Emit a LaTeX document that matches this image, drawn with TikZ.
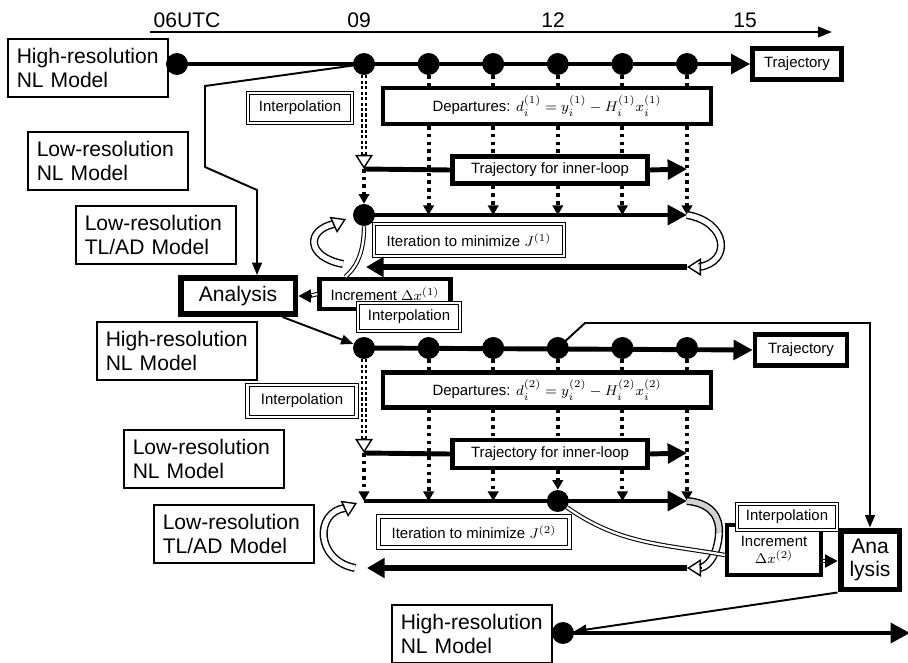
\documentclass[tikz,border=0pt]{standalone}
\usepackage{fontspec}
\setmainfont{Liberation Sans}
\usetikzlibrary{
    arrows.meta,
    calc,
    positioning
}
\tikzset{
    model/.style={draw, line width=0.7pt, align=left, text width=2.85cm,
        minimum height=1.16cm, inner xsep=5pt, font=\fontsize{12}{13.5}\selectfont},
    thickbox/.style={draw, line width=2.5pt, fill=white, font=\fontsize{8.5}{10}\selectfont},
    dblbox/.style={draw, double, double distance=1.3pt, line width=0.6pt, fill=white,
        font=\fontsize{8.5}{10}\selectfont},
    anabox/.style={draw, line width=3.4pt, fill=white, align=center,
        font=\fontsize{12}{13.5}\selectfont},
    dot/.style={circle, fill, inner sep=0pt, minimum size=12.5pt},
    tline/.style={line width=2.8pt, -{Triangle[length=11pt, width=11pt]}},
    backline/.style={line width=3.2pt, -{Triangle[length=10pt, width=11pt]}},
    obs/.style={line width=2.3pt, dash pattern=on 2pt off 2.4pt},
    obsarrow/.style={obs, -{Triangle[length=5.5pt, width=6pt]}},
    interp/.style={double, double distance=1.3pt, line width=1.1pt, dash pattern=on 1.8pt off 1.3pt},
    feed/.style={line width=1.1pt, -{Triangle[length=7pt, width=5.5pt]}},
    dblline/.style={double, double distance=1.3pt, line width=0.6pt},
    solotip/.style={line width=0.6pt, -{Triangle[length=7pt, width=7.5pt]}},
    hollow/.style={double, double distance=3pt, line width=0.8pt},
    hollowtip/.style={line width=0.8pt, -{Triangle[open, length=8pt, width=10pt]}},
    timelabel/.style={font=\fontsize{12}{14}\selectfont}
}
\begin{document}
\begin{tikzpicture}[x=0.02cm, y=-0.02cm]
    \useasboundingbox (0,0) rectangle (908,662);

    % time axis
    \coordinate (ax0) at (150,32);
    \coordinate (ax1) at (832,32);
    \draw[line width=1.2pt, -{Triangle[length=8pt, width=6pt]}] (ax0) -- (ax1);
    \node[timelabel] (lab06) at (187,20) {06UTC};
    \node[timelabel] (lab09) at (359,20) {09};
    \node[timelabel] (lab12) at (553,20) {12};
    \node[timelabel] (lab15) at (745,20) {15};

    % first outer loop
    \node[model] (hr1) at (88,68) {High-resolution\\NL Model};
    \node[model] (lr1) at (108,161) {Low-resolution\\NL Model};
    \node[model] (tl1) at (156,235) {Low-resolution\\TL/AD Model};
    \node[thickbox, minimum width=1.78cm, minimum height=0.62cm] (traj1) at (797,64) {Trajectory};
    \node[thickbox, minimum width=6.56cm, minimum height=0.72cm] (dep1) at (547,106)
        {Departures: $d_i^{(1)} = y_i^{(1)} - H_i^{(1)}x_i^{(1)}$};
    \node[dblbox, minimum width=2.08cm, minimum height=0.6cm] (ip1) at (300,108) {Interpolation};
    \node[thickbox, minimum width=3.9cm, minimum height=0.54cm] (inner1) at (550,170) {Trajectory for inner-loop};
    \node[dblbox, minimum width=3.8cm, minimum height=0.64cm] (it1) at (469,240) {Iteration to minimize $J^{(1)}$};

    \node[dot] (ha0) at (177,64) {};
    \foreach \i in {1,...,6} {
        \node[dot] (ha\i) at ({364+64.6*(\i-1)},64) {};
        \coordinate (la\i) at ({364+64.6*(\i-1)},169);
        \coordinate (ma\i) at ({364+64.6*(\i-1)},215);
    }
    \node[dot] (mdot1) at (ma1) {};

    \draw[tline] (ha0.center) -- (traj1.west);
    \draw[interp] (ha1.south) -- ($(la1)+(0,-14)$);
    \draw[hollowtip] ($(la1)+(0,-15)$) -- (la1);
    \foreach \i in {2,...,6}
        \draw[obs] (ha\i.south) -- (ha\i |- dep1.north);
    \foreach \i in {2,6}
        \draw[obsarrow] (ha\i |- dep1.south) -- (ma\i);
    \foreach \i in {3,4,5} {
        \draw[obs] (ha\i |- dep1.south) -- (ha\i |- inner1.north);
        \draw[obsarrow] (ha\i |- inner1.south) -- (ma\i);
    }
    \draw[obsarrow] (la1) -- (mdot1);
    \draw[line width=2.8pt] (la1) -- (inner1.west);
    \draw[tline] (inner1.east) -- (la6);
    \draw[tline] (mdot1.center) -- (ma6);

    % iteration loop
    \coordinate (ra1) at (687,267);
    \coordinate (ra0) at (366,267);
    \draw[hollow] (ma6) .. controls (728,222) and (732,262) .. ($(ra1)+(12,0)$);
    \draw[hollowtip] ($(ra1)+(13,0)$) -- (ra1);
    \draw[backline] (ra1) -- (ra0);
    \draw[hollow] (343,264) .. controls (306,257) and (306,230) .. (334,224);
    \draw[hollowtip] (333,225) -- (346,219);

    \node[anabox, minimum width=2.3cm, minimum height=0.72cm] (ana1) at (238,296) {Analysis};
    \node[thickbox, minimum width=2.62cm, minimum height=0.6cm] (inc1) at (385,294) {Increment $\Delta x^{(1)}$};
    \node[dblbox, minimum width=2.04cm, minimum height=0.56cm] (ip2) at (409,317) {Interpolation};

    \draw[dblline] (mdot1.south) .. controls (364,250) and (358,266) .. ($(inc1.north west)+(28,0)$);
    \draw[dblline] (inc1.west) -- ($(ana1.east)+(11,0)$);
    \draw[solotip] ($(ana1.east)+(13,0)$) -- (ana1.east);
    \draw[feed] (ha1.center) -- (205,86) -- (205,167) -- (257,190) -- ($(ana1.north)+(19,0)$);

    % second outer loop
    \node[model] (hr2) at (177,351) {High-resolution\\NL Model};
    \node[model] (lr2) at (204,459) {Low-resolution\\NL Model};
    \node[model] (tl2) at (234,534) {Low-resolution\\TL/AD Model};
    \node[thickbox, minimum width=1.84cm, minimum height=0.62cm] (traj2) at (801,350) {Trajectory};
    \node[thickbox, minimum width=6.56cm, minimum height=0.7cm] (dep2) at (547,390)
        {Departures: $d_i^{(2)} = y_i^{(2)} - H_i^{(2)}x_i^{(2)}$};
    \node[dblbox, minimum width=2.18cm, minimum height=0.64cm] (ip3) at (302,401) {Interpolation};
    \node[thickbox, minimum width=3.9cm, minimum height=0.56cm] (inner2) at (550,454) {Trajectory for inner-loop};
    \node[dblbox, minimum width=3.82cm, minimum height=0.62cm] (it2) at (474,532) {Iteration to minimize $J^{(2)}$};

    \foreach \i in {1,...,6} {
        \node[dot] (hb\i) at ({364+64.6*(\i-1)},348) {};
        \coordinate (lb\i) at ({364+64.6*(\i-1)},453);
        \coordinate (mb\i) at ({364+64.6*(\i-1)},501);
    }
    \node[dot] (mdot2) at (mb4) {};

    \draw[feed] (ana1.south east) ++(-16,0) -- (hb1);
    \draw[tline] (hb1.center) -- (traj2.west);
    \draw[interp] (hb1.south) -- ($(lb1)+(0,-14)$);
    \draw[hollowtip] ($(lb1)+(0,-15)$) -- (lb1);
    \foreach \i in {2,...,6}
        \draw[obs] (hb\i.south) -- (hb\i |- dep2.north);
    \foreach \i in {2,6}
        \draw[obsarrow] (hb\i |- dep2.south) -- (mb\i);
    \foreach \i in {3,4,5}
        \draw[obs] (hb\i |- dep2.south) -- (hb\i |- inner2.north);
    \foreach \i in {3,5}
        \draw[obsarrow] (hb\i |- inner2.south) -- (mb\i);
    \draw[obsarrow] (hb4 |- inner2.south) -- (mdot2);
    \draw[obsarrow] (lb1) -- (mb1);
    \draw[line width=2.8pt] (lb1) -- (inner2.west);
    \draw[tline] (inner2.east) -- (lb6);
    \draw[tline] (mb1) -- (mb6);

    % iteration loop
    \coordinate (rb1) at (687,568);
    \coordinate (rb0) at (367,568);
    \draw[hollow, double=gray!35] (mb6) .. controls (712,503) and (720,518) .. (719,533);
    \draw[hollow] (719,533) .. controls (718,552) and (710,566) .. ($(rb1)+(13,0)$);
    \draw[hollowtip] ($(rb1)+(14,0)$) -- (rb1);
    \draw[backline] (rb1) -- (rb0);
    \draw[hollow] (355,568) .. controls (315,560) and (315,512) .. (345,508);
    \draw[hollowtip] (344,509) -- (357,503);

    \node[thickbox, minimum width=1.88cm, minimum height=1cm, align=center] (inc2) at (774,550)
        {Increment\\$\Delta x^{(2)}$};
    \node[dblbox, minimum width=2cm, minimum height=0.5cm] (ip4) at (787,517) {Interpolation};
    \node[anabox, minimum width=1.18cm, minimum height=1.18cm] (ana2) at (870,560) {Ana\\lysis};
    \node[model] (hr3) at (472,634) {High-resolution\\NL Model};
    \node[dot] (hc) at (563,633) {};
    \coordinate (hcend) at (910,633);

    \draw[dblline] (mdot2) to[out=-35, in=170] ($(inc2.west)+(0,5)$);
    \draw[dblline] ($(inc2.east)+(0,11)$) -- ($(ana2.west)+(-10,1)$);
    \draw[solotip] ($(ana2.west)+(-12,1)$) -- ($(ana2.west)+(0,1)$);
    \draw[feed] (hb4.center) -- (585,323) -- (870,323) -- (ana2.north);
    \draw[feed] (ana2.south west) -- (hc);
    \draw[tline] (hc.center) -- (hcend);
\end{tikzpicture}
\end{document}
